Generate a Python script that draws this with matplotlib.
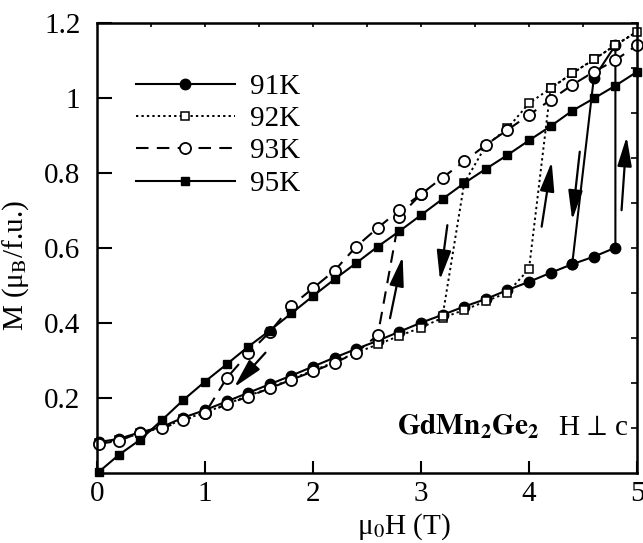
import matplotlib
matplotlib.use("Agg")
import matplotlib.pyplot as plt
import numpy as np

plt.rcParams['font.family'] = ['Liberation Serif', 'DejaVu Serif']
plt.rcParams['mathtext.fontset'] = 'stix'

# field sweep (T), 0.2 T steps
H_sweep = [0.02, 0.2, 0.4, 0.6, 0.8, 1.0, 1.2, 1.4, 1.6, 1.8, 2.0, 2.2, 2.4,
           2.6, 2.8, 3.0, 3.2, 3.4, 3.6, 3.8, 4.0, 4.2, 4.4, 4.6, 4.8, 5.0]

# 91K: up to 4.8 T, jump, then back down
H_91 = H_sweep[:25] + [4.8, 4.6, 4.4]
M_91 = [0.082, 0.090, 0.108, 0.122, 0.147, 0.167, 0.190, 0.213, 0.236, 0.259,
        0.283, 0.307, 0.330, 0.352, 0.376, 0.400, 0.421, 0.443, 0.463, 0.487,
        0.509, 0.533, 0.556, 0.576, 0.600, 1.140, 1.052, 0.556]

# 92K
H_92 = H_sweep + [4.8, 4.6, 4.4, 4.2, 4.0, 3.8, 3.6, 3.4, 3.2]
M_92 = [0.080, 0.087, 0.105, 0.120, 0.142, 0.160, 0.183, 0.205, 0.226, 0.250,
        0.272, 0.295, 0.320, 0.342, 0.365, 0.387, 0.413, 0.434, 0.457, 0.480,
        0.543, 1.025, 1.065, 1.102, 1.140, 1.176,
        1.140, 1.102, 1.065, 1.025, 0.985, 0.918, 0.872, 0.772, 0.418]

# 93K, field up and field down
H_93_up = H_sweep
M_93_up = [0.077, 0.085, 0.107, 0.118, 0.140, 0.158, 0.182, 0.203, 0.225, 0.248,
           0.270, 0.293, 0.320, 0.367, 0.683, 0.743, 0.787, 0.830, 0.874, 0.914,
           0.954, 0.994, 1.034, 1.069, 1.100, 1.140]
H_93_dn = [3.0, 2.8, 2.6, 2.4, 2.2, 2.0, 1.8, 1.6, 1.4, 1.2, 1.0]
M_93_dn = [0.743, 0.700, 0.653, 0.603, 0.539, 0.492, 0.445, 0.375, 0.318, 0.252, 0.158]

# 95K, no hysteresis
H_95 = H_sweep
M_95 = [0.003, 0.047, 0.088, 0.140, 0.194, 0.243, 0.289, 0.336, 0.379, 0.425,
        0.471, 0.516, 0.559, 0.603, 0.644, 0.687, 0.730, 0.772, 0.810, 0.847,
        0.886, 0.924, 0.965, 0.998, 1.032, 1.069]

# sweep direction arrows (tail, head)
arrows = [((1.56, 0.32), (1.27, 0.228)),
          ((2.713, 0.412), (2.83, 0.576)),
          ((3.244, 0.66), (3.176, 0.514)),
          ((4.117, 0.656), (4.21, 0.829)),
          ((4.47, 0.856), (4.40, 0.674)),
          ((4.857, 0.70), (4.904, 0.896))]

fig = plt.figure(figsize=(6.43, 5.43), dpi=100)
ax = fig.add_axes([97/643, 70.3/543, 540/643, 450/543])

dash93 = (0, (6, 4))
ax.plot(H_91, M_91, '-', color='k', lw=1.5, marker='o', ms=7.5,
        mfc='k', mec='k', label='91K', clip_on=False)
ax.plot(H_92, M_92, color='k', lw=1.4, ls=(0, (1.2, 1.6)), marker='s', ms=6,
        mfc='white', mec='k', mew=1.1, label='92K', clip_on=False)
ax.plot(H_93_up, M_93_up, color='k', lw=1.5, ls=dash93, marker='o', ms=8,
        mfc='white', mec='k', mew=1.3, label='93K', clip_on=False)
ax.plot(H_93_dn, M_93_dn, color='k', lw=1.5, ls=dash93, marker='o', ms=8,
        mfc='white', mec='k', mew=1.3, clip_on=False)
ax.plot(H_95, M_95, '-', color='k', lw=1.5, marker='s', ms=6,
        mfc='k', mec='k', label='95K', clip_on=False)

for tail, head in arrows:
    ax.annotate('', xy=head, xytext=tail,
                arrowprops=dict(arrowstyle='-|>,head_length=0.9,head_width=0.22',
                                color='k', lw=1.6, mutation_scale=20,
                                shrinkA=0, shrinkB=0))

ax.text(2.775, 0.10, r'$\mathbf{GdMn_2Ge_2}$', fontsize=21, va='baseline')
ax.text(4.27, 0.10, r'H$\,\perp\,$c', fontsize=21, va='baseline')

ax.set_xlim(0, 5)
ax.set_ylim(0, 1.2)
ax.set_xticks([0, 1, 2, 3, 4, 5])
ax.set_xticklabels(['0', '1', '2', '3', '4', '5'])
ax.set_yticks([0.2, 0.4, 0.6, 0.8, 1.0, 1.2])
ax.set_yticklabels(['0.2', '0.4', '0.6', '0.8', '1', '1.2'])
ax.tick_params(axis='y', direction='in', length=11, width=1.5, labelsize=21, pad=12)
ax.tick_params(axis='x', direction='in', length=9, width=1.5, labelsize=21, pad=6)
for sp in ax.spines.values():
    sp.set_linewidth(1.8)

top = ax.secondary_xaxis('top')
top.set_xticks(np.arange(0.5, 5, 0.5))
top.tick_params(direction='in', length=3, width=1.2, labeltop=False)
right = ax.secondary_yaxis('right')
right.set_yticks(np.arange(0.12, 1.2, 0.12))
right.tick_params(direction='in', length=4, width=1.2, labelright=False)

ax.set_xlabel('\u03bc$_0$H (T)', fontsize=21)
ax.xaxis.set_label_coords(0.568, -0.085)
ax.set_ylabel('M (\u03bc$_\\mathrm{B}$/f.u.)', fontsize=21)
ax.yaxis.set_label_coords(-0.122, 0.46)

leg = ax.legend(loc='upper left', bbox_to_anchor=(0.072, 0.887), frameon=False,
                fontsize=21, handlelength=3.4, handletextpad=0.5,
                labelspacing=0.2, borderpad=0, borderaxespad=0)

fig.savefig('out.png', dpi=100)
